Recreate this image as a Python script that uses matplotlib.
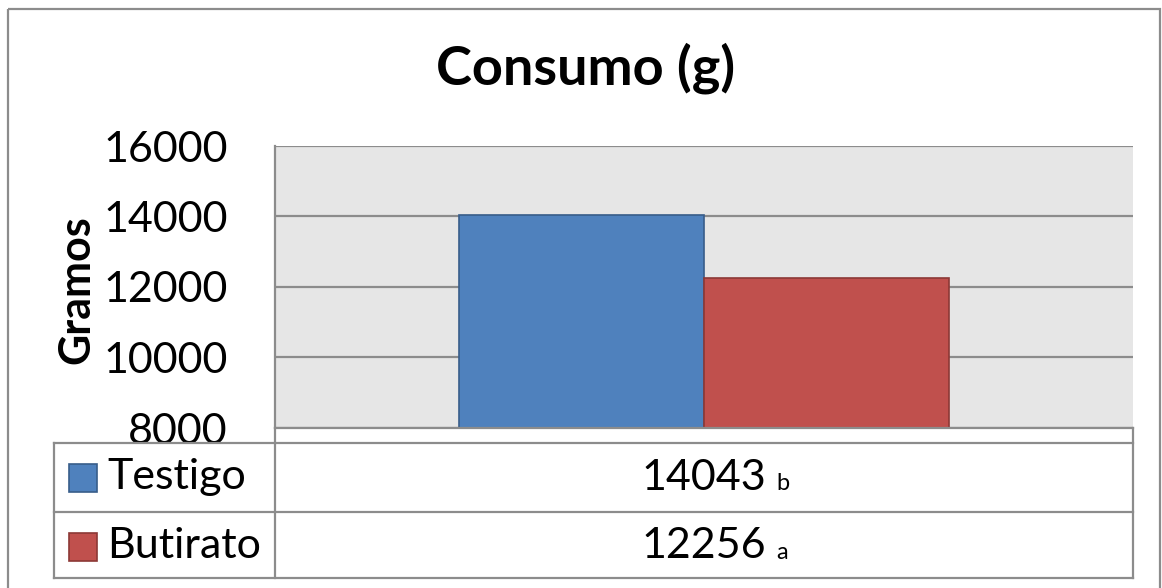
import matplotlib.pyplot as plt
from matplotlib.patches import Rectangle

# data
series = ["Testigo", "Butirato"]
values = [14043, 12256]
letters = ["b", "a"]
colors = ["#4F81BD", "#C0504D"]
edges = ["#385D8A", "#8C3836"]
yticks = [8000, 10000, 12000, 14000, 16000]

W, H = 1162, 588
plt.rcParams["font.family"] = ["Lato", "DejaVu Sans"]
fig = plt.figure(figsize=(W / 100, H / 100), dpi=100)

# plot area in pixels
px0, px1, py0, py1 = 275, 1133, 146, 428
ax = fig.add_axes([px0 / W, 1 - py1 / H, (px1 - px0) / W, (py1 - py0) / H])
ax.set_facecolor("#E6E6E6")

bw = 0.286
for i, (v, c, e) in enumerate(zip(values, colors, edges)):
    ax.bar((i - 1) * bw, v - 8000, bottom=8000, width=bw, align="edge",
           color=c, edgecolor=e, linewidth=1.2, zorder=3)
ax.set_xlim(-0.5, 0.5)
ax.set_ylim(8000, 16000)
ax.set_yticks(yticks)
ax.set_yticklabels([str(t) for t in yticks], fontsize=31)
ax.set_xticks([])
ax.tick_params(axis="y", length=0, pad=34)
ax.yaxis.grid(True, color="#8C8C8C", linewidth=1.6, zorder=1)
ax.set_axisbelow(True)
for s in ["top", "right", "bottom"]:
    ax.spines[s].set_visible(False)
ax.spines["left"].set_color("#8C8C8C")
ax.spines["left"].set_linewidth(1.6)

# overlay for the frame, titles and data table
ov = fig.add_axes([0, 0, 1, 1], facecolor="none")
ov.set_xlim(0, W)
ov.set_ylim(H, 0)
ov.axis("off")
lc = "#8C8C8C"
ov.add_patch(Rectangle((8, 9), 1152, 600, fill=False, edgecolor=lc, linewidth=1.6))
ov.text(586, 68, "Consumo (g)", fontsize=39, fontweight="bold", ha="center", va="center")
ov.text(76, 290, "Gramos", fontsize=31, fontweight="bold", rotation=90,
        ha="center", va="center")

tx0, ty0, ty1, ty2, ty3 = 54, 443, 512, 578, py1
ov.plot([px0, px1], [ty3, ty3], color=lc, lw=1.6)
for y in [ty0, ty1, ty2]:
    ov.plot([tx0, px1], [y, y], color=lc, lw=1.6)
ov.plot([tx0, tx0], [ty0, ty2], color=lc, lw=1.6)
ov.plot([px0, px0], [ty3, ty2], color=lc, lw=1.6)
ov.plot([px1, px1], [ty3, ty2], color=lc, lw=1.6)

xc = (px0 + px1) / 2
row_h = ty1 - ty0
for i, (name, v, let, c, e) in enumerate(zip(series, values, letters, colors, edges)):
    yc = ty0 + row_h * (i + 0.5)
    ov.add_patch(Rectangle((69, yc - 14), 28, 28, facecolor=c, edgecolor=e, linewidth=1.2))
    ov.text(107, yc, name, fontsize=31, ha="left", va="center")
    ov.text(xc, yc, str(v), fontsize=31, ha="center", va="center")
    ov.text(xc + 72, yc + 6, let, fontsize=17, ha="left", va="center")

fig.savefig("out.png", dpi=100)
